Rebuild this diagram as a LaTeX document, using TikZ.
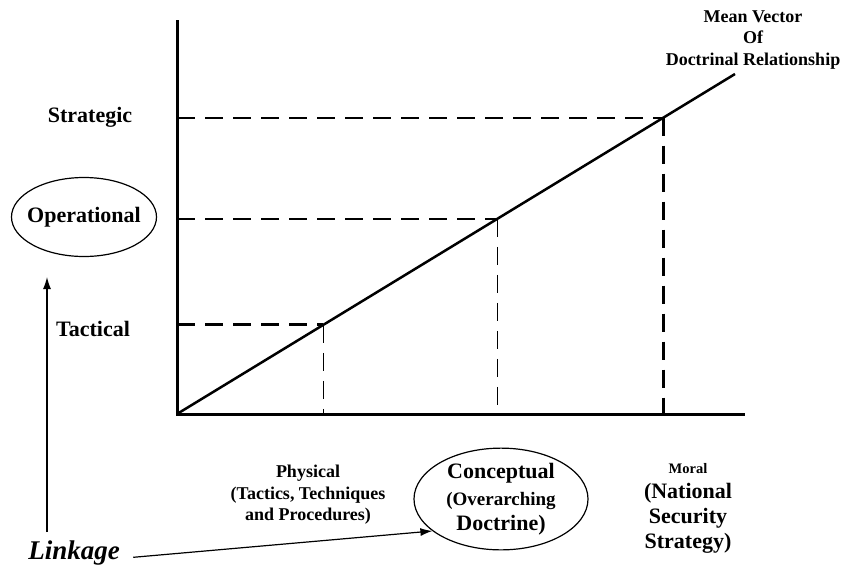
\documentclass[tikz,border=0pt]{standalone}
\usepackage{fontspec}
\setmainfont{Liberation Serif}
\usetikzlibrary{positioning}
\usetikzlibrary{shapes.geometric, arrows.meta}
\usetikzlibrary{calc}

\begin{document}
\begin{tikzpicture}[x=1pt, y=-1pt,
	big/.style = {font=\bfseries\fontsize{22}{25}\selectfont, align=center},
	small/.style = {font=\bfseries\fontsize{18}{21.5}\selectfont, align=center},
	guide/.style = {dash pattern=on 18pt off 10pt},
	axis/.style = {line width=3pt},
	link/.style = {line width=1.2pt, -{Latex[length=12pt,width=8pt]}}]
	\useasboundingbox (0,0) rectangle (846,568);
	% axes and vector
	\coordinate (o) at (177,414);
	\coordinate (ytop) at (177,20);
	\coordinate (xend) at (745,414);
	\coordinate (vend) at (735,74);
	\draw [axis] (ytop) -- (o) -- (xend);
	\draw [line width=2.5pt] (o) -- (vend);
	\coordinate (tac) at ($(o)!0.262!(vend)$);
	\coordinate (op) at ($(o)!0.574!(vend)$);
	\coordinate (str) at ($(o)!0.872!(vend)$);
	% guide lines
	\draw [guide, line width=2pt] (str -| o) -- (str);
	\draw [guide, line width=3pt] (str) -- (str |- o);
	\draw [guide, line width=1.5pt] (op -| o) -- (op);
	\draw [guide, line width=1pt] (op) -- (op |- o);
	\draw [guide, line width=3pt] (tac -| o) -- (tac);
	\draw [guide, line width=1pt] (tac) -- (tac |- o);
	% levels
	\node (strategic) [big] at (90,117) {Strategic};
	\node (operational) [big, ellipse, draw, line width=1.2pt, inner xsep=-6pt, minimum width=145pt, minimum height=79pt] at (84,217) {Operational};
	\node (tactical) [big] at (93,329) {Tactical};
	\node (vector) [small] at (753,40) {Mean Vector\\Of\\Doctrinal Relationship};
	% domains
	\node (physical) [small] at (308,495) {Physical\\(Tactics, Techniques\\and Procedures)};
	\node (concept) [big, ellipse, draw, line width=1.2pt, inner sep=0pt, minimum width=174pt, minimum height=78pt] at (501,499)
		{Conceptual\\[2pt]{\fontsize{19}{23}\selectfont (Overarching}\\Doctrine)};
	\node (moral) [big] at (688,508) {{\fontsize{14.5}{22}\selectfont Moral}\\(National\\Security\\Strategy)};
	\node (linkage) [font=\bfseries\itshape\fontsize{27}{30}\selectfont] at (74,553) {Linkage};
	% linkage arrows
	\coordinate (upfoot) at (47,532);
	\coordinate (uphead) at (47,277);
	\draw [link] (upfoot) -- (uphead);
	\draw [link, shorten <=10pt] (linkage.-6) -- (concept.205);
\end{tikzpicture}
\end{document}
